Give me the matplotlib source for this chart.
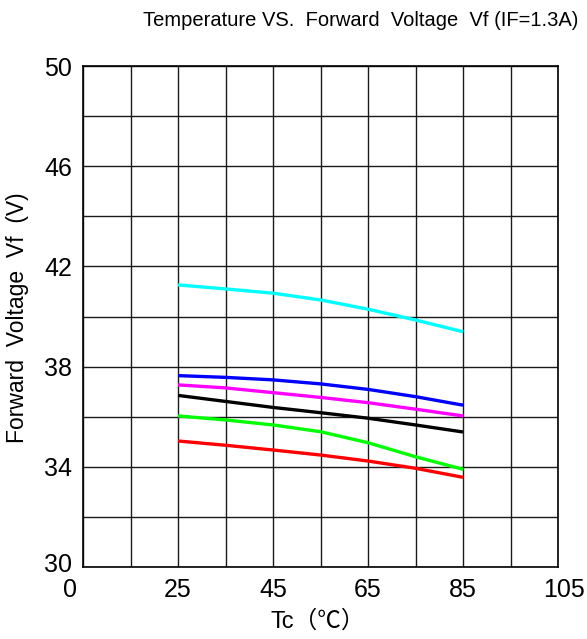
import matplotlib
matplotlib.use("Agg")
import matplotlib.pyplot as plt
from matplotlib.ticker import FixedLocator
import matplotlib.transforms as mtrans

plt.rcParams['font.family'] = ['Liberation Sans', 'Noto Sans CJK SC', 'DejaVu Sans']

# data
temps = [25, 35, 45, 55, 65, 75, 85]
vf_cyan = [41.26, 41.10, 40.93, 40.66, 40.29, 39.86, 39.39]
vf_blue = [37.64, 37.57, 37.47, 37.31, 37.09, 36.80, 36.46]
vf_magenta = [37.27, 37.15, 36.96, 36.77, 36.56, 36.30, 36.03]
vf_black = [36.85, 36.61, 36.37, 36.16, 35.94, 35.67, 35.39]
vf_green = [36.03, 35.87, 35.67, 35.40, 34.96, 34.40, 33.90]
vf_red = [35.03, 34.86, 34.67, 34.47, 34.23, 33.94, 33.58]

x_ticks = [5, 25, 45, 65, 85, 105]
x_tick_labels = ["0", "25", "45", "65", "85", "105"]
y_ticks = [30, 34, 38, 42, 46, 50]

series = [
    (vf_cyan, "#00FFFF"),
    (vf_blue, "#0000FF"),
    (vf_magenta, "#FF00FF"),
    (vf_black, "#000000"),
    (vf_green, "#00FF00"),
    (vf_red, "#FF0000"),
]

fig = plt.figure(figsize=(5.87, 6.39), dpi=100)
ax = fig.add_axes([83/587, 1-567/639, (558-83)/587, (567-66)/639])

for vals, col in series:
    ax.plot(temps, vals, color=col, lw=2.4, solid_capstyle="butt")

ax.set_xlim(5, 105)
ax.set_ylim(30, 50)
ax.set_xticks(x_ticks)
ax.set_xticklabels(x_tick_labels)
ax.xaxis.set_minor_locator(FixedLocator(list(range(15, 105, 20))))
ax.set_yticks(y_ticks)
ax.yaxis.set_minor_locator(FixedLocator([32, 36, 40, 44, 48]))
ax.tick_params(which="both", length=0)
ax.tick_params(axis="x", labelsize=18, pad=8)
ax.tick_params(axis="y", labelsize=18, pad=8)
ax.grid(True, which="both", color="#1a1a1a", lw=1.0)
ax.set_axisbelow(True)
for s in ax.spines.values():
    s.set_color("black")
    s.set_linewidth(1.2)

# the reference puts the outer labels slightly off the grid
labels = ax.get_xticklabels()
labels[0].set_transform(labels[0].get_transform() + mtrans.ScaledTranslation(-13/100, 0, fig.dpi_scale_trans))
labels[-1].set_transform(labels[-1].get_transform() + mtrans.ScaledTranslation(6/100, 0, fig.dpi_scale_trans))
ylabels = ax.get_yticklabels()
ylabels[0].set_transform(ylabels[0].get_transform() + mtrans.ScaledTranslation(0, 4/100, fig.dpi_scale_trans))

fig.text(18/587, 1-318/639, "Forward  Voltage  Vf  (V)", rotation=90,
         ha="center", va="center", fontsize=16.5)
fig.text(318/587, 1-622/639, "Tc（℃）", ha="center", va="center", fontsize=17)
fig.text(361/587, 1-20/639, "Temperature VS.  Forward  Voltage  Vf (IF=1.3A)",
         ha="center", va="center", fontsize=14.5)

fig.savefig("out.png", dpi=100)
